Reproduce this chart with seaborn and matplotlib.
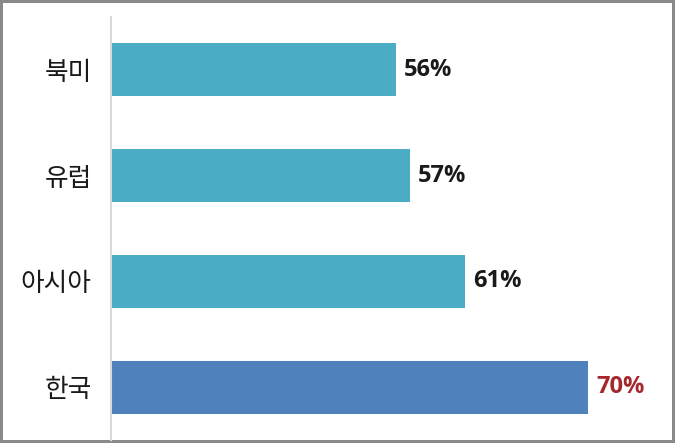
import matplotlib
matplotlib.use("Agg")
import matplotlib.pyplot as plt
import seaborn as sns
import pandas as pd

regions = ["북미", "유럽", "아시아", "한국"]
values = [56, 57, 61, 70]
labels = ["56%", "57%", "61%", "70%"]
bar_colors = ["#4BACC6", "#4BACC6", "#4BACC6", "#4F81BD"]
label_colors = ["#1a1a1a", "#1a1a1a", "#1a1a1a", "#A5282C"]

sns.set_theme(style="white")
plt.rcParams["font.family"] = ["Noto Sans CJK KR", "DejaVu Sans"]

df = pd.DataFrame({"region": regions, "value": values})

fig = plt.figure(figsize=(6.75, 4.43), dpi=100)
fig.patch.set_facecolor("white")
fig.patch.set_edgecolor("#8a8a8a")
fig.patch.set_linewidth(3)
ax = fig.add_axes([111 / 675, 3 / 443, 549 / 675, 423 / 443])

sns.barplot(data=df, y="region", x="value", hue="region", palette=bar_colors,
            order=regions, hue_order=regions, width=0.5, legend=False, ax=ax,
            saturation=1, edgecolor="none")

for i, (v, lab, c) in enumerate(zip(values, labels, label_colors)):
    ax.annotate(lab, xy=(v, i), xytext=(6, 0), textcoords="offset points",
                va="center", ha="left", fontsize=17, fontweight="bold", color=c,
                family=["Open Sans", "DejaVu Sans"])

ax.set_xlim(35.3, 75.2)
ax.set_ylim(3.5, -0.5)
ax.set_xlabel("")
ax.set_ylabel("")
ax.set_xticks([])
for s in ["top", "right", "bottom"]:
    ax.spines[s].set_visible(False)
ax.spines["left"].set_color("#d9d9d9")
ax.spines["left"].set_linewidth(1.5)
ax.tick_params(axis="y", length=0, pad=14, labelsize=18.5, labelcolor="#1a1a1a")
for t in ax.get_yticklabels():
    t.set_fontweight("medium")

fig.savefig("out.png", dpi=100, facecolor=fig.get_facecolor(), edgecolor=fig.get_edgecolor())
